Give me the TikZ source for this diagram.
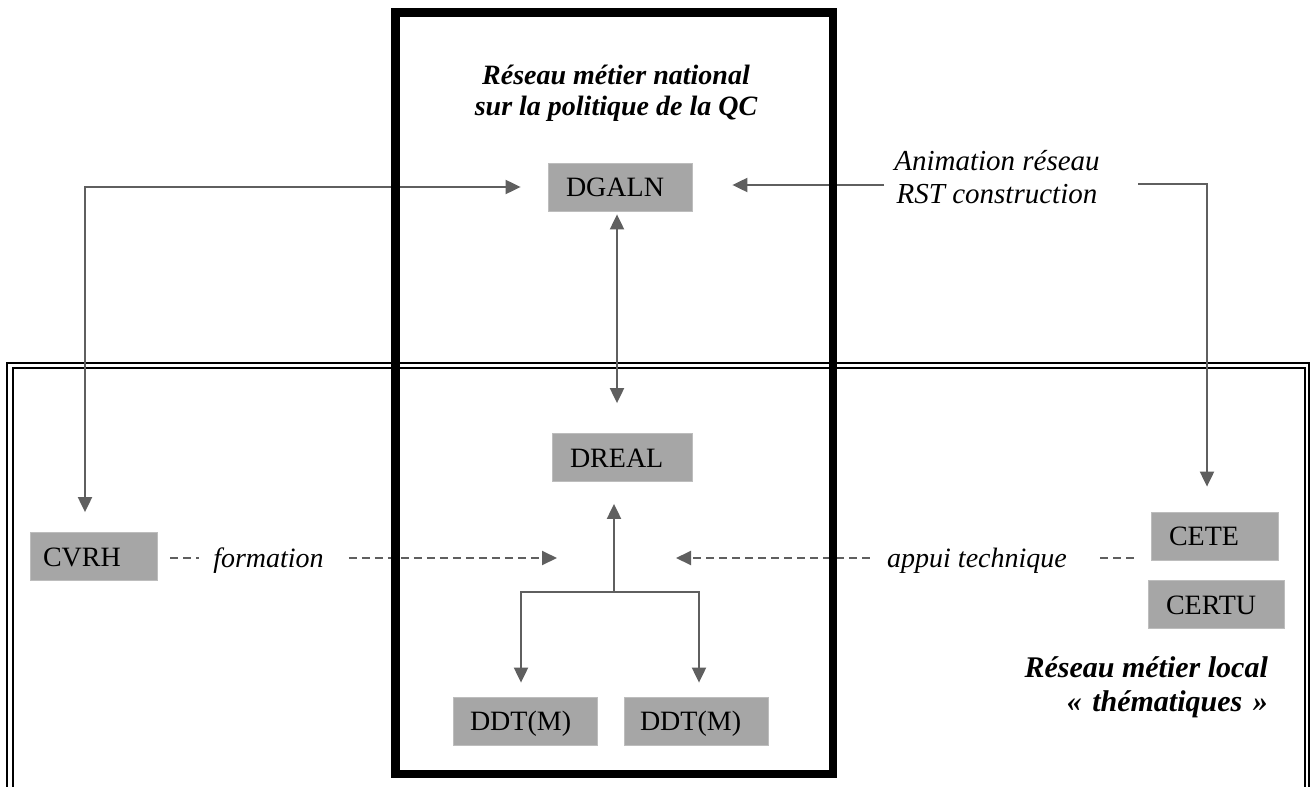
\documentclass[tikz,border=0pt]{standalone}
\usepackage{fontspec}
\setmainfont{Liberation Serif}
\usetikzlibrary{arrows.meta}
\definecolor{boxgray}{HTML}{A6A6A6}
\definecolor{boxedge}{HTML}{BDBDBD}
\definecolor{conngray}{HTML}{5F5F5F}
\newcommand{\mysize}{\fontsize{28}{32}\selectfont}
\newcommand{\myanimsize}{\fontsize{29}{33}\selectfont}
\newcommand{\mytitlesize}{\fontsize{28}{31}\selectfont}
\newcommand{\mylocalsize}{\fontsize{30}{34}\selectfont}
\begin{document}
\begin{tikzpicture}[x=1pt,y=-1pt,
  mytri/.tip={Triangle[length=15pt,width=14pt]},
  conn/.style={draw=conngray,line width=2pt},
  dashconn/.style={conn,dash pattern=on 8pt off 5pt},
  gbox/.style={fill=boxgray,draw=boxedge,line width=0.8pt,inner xsep=18pt,inner ysep=0pt,
    minimum height=48pt,text height=19pt,text depth=0pt,align=left,font=\mysize},
  lbl/.style={inner sep=0pt,font=\mysize\itshape},
  heading/.style={inner sep=0pt,font=\mytitlesize\bfseries\itshape},
  border/.style={draw=black,line width=2pt}]
\useasboundingbox (0,0) rectangle (1310,787);
\fill[white] (0,0) rectangle (1310,787);
% local network double border
\draw[border] (7,363) rectangle (1309,800);
\draw[border] (13,368) rectangle (1305,800);
% nodes
\node[gbox,text width=108pt] (dgaln) at (620,187) {DGALN};
\node[gbox,text width=104pt] (dreal) at (622,457.5) {DREAL};
\node[gbox,text width=101pt,inner xsep=13pt] (cvrh) at (93.5,556.5) {CVRH};
\node[gbox,text width=91pt] (cete) at (1214.5,536) {CETE};
\node[gbox,text width=100pt] (certu) at (1216,604.5) {CERTU};
\node[gbox,text width=110pt,inner xsep=17pt] (ddt1) at (525,721) {DDT(M)};
\node[gbox,text width=112pt,inner xsep=16pt] (ddt2) at (696,721) {DDT(M)};
\node[heading,align=center,anchor=base] (title) at (616,115) {Réseau métier national\\sur la politique de la QC};
\node[heading,font=\mylocalsize\bfseries\itshape,align=right,anchor=base east] (local) at (1268,711) {Réseau métier local\\«\hspace{0.35em}thématiques\hspace{0.35em}»};
\node[lbl,font=\myanimsize\itshape,align=center,anchor=base] (anim) at (997,203) {Animation réseau\\RST construction};
\node[lbl,anchor=base] (formation) at (268.5,567) {formation};
\node[lbl,anchor=base] (appui) at (977,567) {appui technique};
% free ends
\coordinate (animL) at (884,185);
\coordinate (animR) at (1138,184);
\coordinate (fork) at (614,592);
\coordinate (tipF) at (557,558);
\coordinate (tipA) at (676,558);
% connectors
\draw[conn,mytri-mytri] ([xshift=-8.5pt,yshift=20pt]cvrh.north) |- ([xshift=-27pt]dgaln.west);
\draw[conn,-mytri] (animL) -- ([xshift=40pt,yshift=2pt]dgaln.east);
\draw[conn,-mytri] (animR) -| ([xshift=-7.5pt,yshift=25pt]cete.north);
\draw[conn,mytri-mytri] ([xshift=-3pt,yshift=-3pt]dgaln.south) -- ([xshift=-5pt,yshift=30pt]dreal.north);
\draw[conn,-mytri] (fork) -- ([xshift=-8pt,yshift=-22pt]dreal.south);
\draw[conn,-mytri] (fork) -| ([xshift=-4pt,yshift=14pt]ddt1.north);
\draw[conn,-mytri] (fork) -| ([xshift=3pt,yshift=14pt]ddt2.north);
\draw[dashconn,shorten <=13pt,shorten >=14pt] (cvrh.east |- tipF) -- (formation.west |- tipF);
\draw[dashconn,-mytri,shorten <=25pt] (formation.east |- tipF) -- (tipF);
\draw[dashconn,-mytri,shorten <=17pt] (appui.west |- tipA) -- (tipA);
\draw[dashconn,shorten <=33pt,shorten >=14pt] (appui.east |- tipA) -- (cete.west |- tipA);
% national network thick box
\draw[line width=8.5pt,draw=black] (395.5,12.5) rectangle (833,774);
\end{tikzpicture}
\end{document}
